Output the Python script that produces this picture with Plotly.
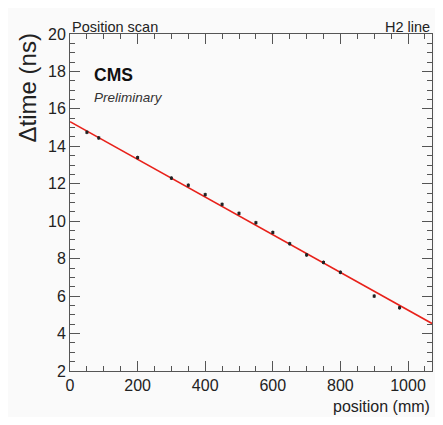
import numpy as np
import plotly.graph_objects as go

position = [50, 85, 200, 300, 350, 400, 450, 500, 550, 600, 650, 700, 750, 800, 900, 975]
dtime = [14.75, 14.45, 13.4, 12.3, 11.92, 11.42, 10.9, 10.42, 9.92, 9.4, 8.8, 8.2, 7.8, 7.27, 6.0, 5.38]
dtime_err = [0.1] * len(position)

# linear fit drawn in red
fit_intercept = 15.32
fit_slope = -0.01007
x_range = [0, 1071]
y_range = [2, 20]

fit_x = np.linspace(x_range[0], x_range[1], 50)
fit_y = fit_intercept + fit_slope * fit_x

font = "Liberation Sans, Arial, sans-serif"
axcol = "#555555"

fig = go.Figure()
fig.add_trace(go.Scatter(x=fit_x, y=fit_y, mode="lines",
                         line=dict(color="#e8211a", width=1.6),
                         hoverinfo="skip", showlegend=False))
fig.add_trace(go.Scatter(x=position, y=dtime, mode="markers",
                         marker=dict(color="#222222", size=3, symbol="square"),
                         error_y=dict(type="data", array=dtime_err, width=0,
                                      color="#222222", thickness=1),
                         showlegend=False))

axis_common = dict(showgrid=False, zeroline=False, showline=True, linecolor=axcol,
                   linewidth=1, mirror="ticks", ticks="inside", tickcolor=axcol,
                   tickfont=dict(family=font, size=16, color="#222222"))

fig.update_xaxes(range=x_range, dtick=200, tick0=0, ticklen=10,
                 minor=dict(ticks="inside", dtick=50, ticklen=5, tickcolor=axcol),
                 **axis_common)
fig.update_yaxes(range=y_range, dtick=2, tick0=0, ticklen=10,
                 minor=dict(ticks="inside", dtick=0.5, ticklen=5, tickcolor=axcol),
                 **axis_common)

fig.add_annotation(text="Position scan", xref="paper", yref="paper", x=0, y=1,
                   xanchor="left", yanchor="bottom", showarrow=False, yshift=-3,
                   font=dict(family=font, size=14.5, color="#222222"))
fig.add_annotation(text="H2 line", xref="paper", yref="paper", x=1, y=1,
                   xanchor="right", yanchor="bottom", showarrow=False, yshift=-3,
                   font=dict(family=font, size=14.5, color="#222222"))
fig.add_annotation(text="<b>CMS</b>", xref="paper", yref="paper", x=0.062, y=0.878,
                   xanchor="left", yanchor="middle", showarrow=False,
                   font=dict(family=font, size=17.5, color="#111111"))
fig.add_annotation(text="<i>Preliminary</i>", xref="paper", yref="paper", x=0.062, y=0.813,
                   xanchor="left", yanchor="middle", showarrow=False,
                   font=dict(family=font, size=13.5, color="#333333"))
fig.add_annotation(text="position (mm)", xref="paper", yref="paper", x=1, y=0,
                   xanchor="right", yanchor="top", showarrow=False, yshift=-25,
                   font=dict(family=font, size=16, color="#222222"))
fig.add_annotation(text="Δtime (ns)", xref="paper", yref="paper", x=0, y=1,
                   xanchor="center", yanchor="top", showarrow=False, textangle=-90,
                   xshift=-43, yshift=2,
                   font=dict(family=font, size=24, color="#222222"))

fig.update_layout(width=427, height=409, margin=dict(l=62, r=3, t=26, b=46),
                  paper_bgcolor="#fafafa", plot_bgcolor="#fafafa",
                  font=dict(family=font))

fig.write_html("out.html")
